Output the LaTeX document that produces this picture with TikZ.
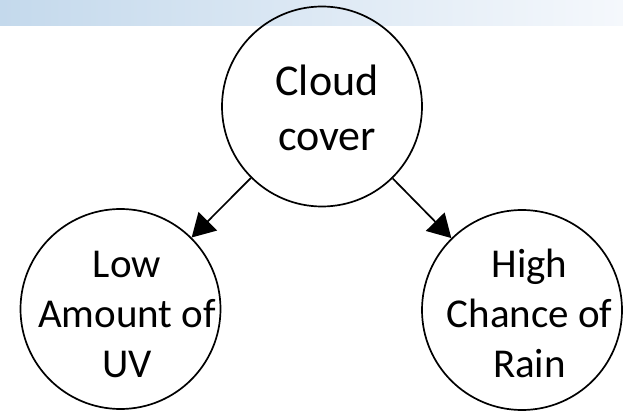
\documentclass[tikz,border=0pt]{standalone}
\usepackage{fontspec}
\setmainfont{Carlito}
\usetikzlibrary{arrows.meta}

\definecolor{bandleft}{HTML}{C4D9EC}
\definecolor{bandright}{HTML}{F5F8FC}

\tikzset{
  bubble/.style={circle, draw, line width=1.7pt, minimum size=200pt, inner sep=0pt},
  bubbletext/.style={align=center, inner sep=0pt, font=\fontsize{41}{50}\selectfont},
  toptext/.style={bubbletext, font=\fontsize{44}{55}\selectfont},
  link/.style={line width=1.7pt, -{Triangle[length=23pt, width=26pt]}},
}

\begin{document}
\begin{tikzpicture}[x=1pt, y=-1pt]
  \useasboundingbox (0,0) rectangle (623,411);
  % header band
  \shade[left color=bandleft, right color=bandright] (0,0) rectangle (623,26);

  % circles
  \node[bubble] (cloud) at (322,106.5) {};
  \node[bubble] (uv)    at (120.5,309) {};
  \node[bubble] (rain)  at (522,310) {};

  % labels
  \node[toptext]    (cloudlbl) at (327,107.5) {Cloud\\cover};
  \node[bubbletext] (uvlbl)    at (127,314)   {Low\\Amount of\\UV};
  \node[bubbletext] (rainlbl)  at (529.5,313) {High\\Chance of\\Rain};

  % connectors
  \draw[link] (cloud) -- (uv);
  \draw[link] (cloud) -- (rain);
\end{tikzpicture}
\end{document}
